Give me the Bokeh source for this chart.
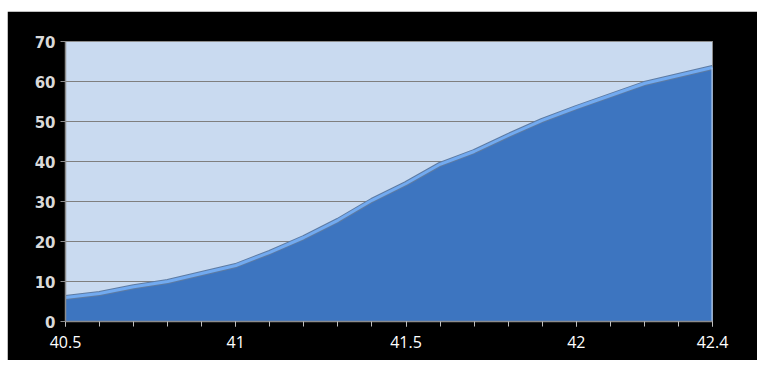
from bokeh.plotting import figure
from bokeh.models import FixedTicker, ColumnDataSource, Range1d
from bokeh.embed import file_html
from bokeh.resources import INLINE

# Data
x_values = [40.5, 40.6, 40.7, 40.8, 40.9, 41.0, 41.1, 41.2, 41.3, 41.4,
            41.5, 41.6, 41.7, 41.8, 41.9, 42.0, 42.1, 42.2, 42.3, 42.4]
y_values = [6.0, 7.0, 8.7, 10.0, 12.0, 14.0, 17.3, 21.0, 25.3, 30.3,
            34.5, 39.3, 42.5, 46.5, 50.3, 53.5, 56.5, 59.5, 61.5, 63.5]
x_ticks = [40.5, 41.0, 41.5, 42.0, 42.4]
x_tick_labels = ["40.5", "41", "41.5", "42", "42.4"]
x_minor_ticks = [40.5 + 0.1 * i for i in range(20)]
y_ticks = [0, 10, 20, 30, 40, 50, 60, 70]

source = ColumnDataSource(data=dict(x=x_values, y=y_values, y0=[0] * len(x_values)))

p = figure(width=750, height=349, output_backend="svg", toolbar_location=None,
           x_range=Range1d(40.5, 42.4), y_range=Range1d(0, 70),
           min_border_left=58, min_border_right=45, min_border_top=30, min_border_bottom=39)
p.margin = (11, 0, 0, 7)

p.background_fill_color = "#c9daf0"
p.border_fill_color = "#000000"
p.outline_line_color = "#8c8c8c"
p.outline_line_width = 1

p.xgrid.grid_line_color = None
p.ygrid.grid_line_color = "#7f7f7f"
p.ygrid.grid_line_width = 1.2

p.varea(x="x", y1="y0", y2="y", source=source, fill_color="#3d75c0")
p.line(x="x", y="y", source=source, line_color="#5d7ba3", line_width=5)
p.line(x="x", y="y", source=source, line_color="#72aaf0", line_width=3)
p.segment(x0=[x_values[-1]], y0=[0], x1=[x_values[-1]], y1=[y_values[-1]],
          line_color="#b8d0ee", line_width=2)

# X axis
p.xaxis.ticker = FixedTicker(ticks=x_ticks, minor_ticks=x_minor_ticks)
p.xaxis.major_label_overrides = {t: l for t, l in zip(x_ticks, x_tick_labels)}
p.xaxis.axis_line_color = "#8c8c8c"
p.xaxis.axis_line_width = 1.5
p.xaxis.major_tick_line_color = "#bfbfbf"
p.xaxis.minor_tick_line_color = "#bfbfbf"
p.xaxis.major_tick_in = 0
p.xaxis.major_tick_out = 5
p.xaxis.minor_tick_in = 0
p.xaxis.minor_tick_out = 5
p.xaxis.major_label_standoff = 9
p.xaxis.major_label_text_color = "#ffffff"
p.xaxis.major_label_text_font = "Open Sans"
p.xaxis.major_label_text_font_size = "16px"

# Y axis
p.yaxis.ticker = FixedTicker(ticks=y_ticks, minor_ticks=[])
p.yaxis.axis_line_color = "#8c8c8c"
p.yaxis.axis_line_width = 1.5
p.yaxis.major_tick_line_color = "#8c8c8c"
p.yaxis.major_tick_in = 0
p.yaxis.major_tick_out = 5
p.yaxis.minor_tick_line_color = None
p.yaxis.major_label_standoff = 5
p.yaxis.major_label_text_color = "#d9d9d9"
p.yaxis.major_label_text_font = "DejaVu Sans"
p.yaxis.major_label_text_font_style = "bold"
p.yaxis.major_label_text_font_size = "15px"

open("out.html", "w").write(file_html(p, INLINE))
